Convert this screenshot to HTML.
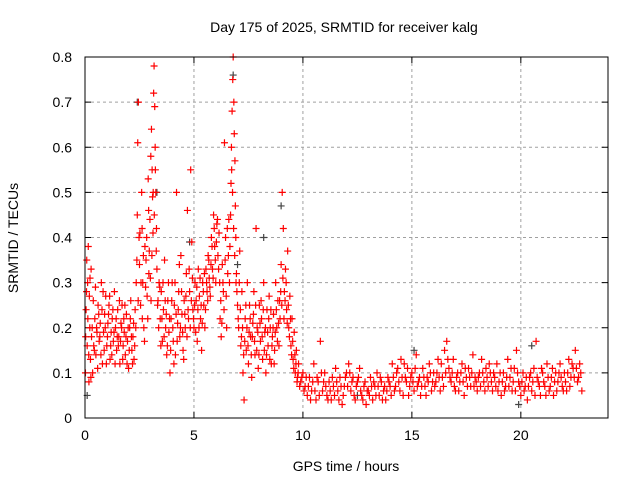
<!DOCTYPE html>
<html><head><meta charset="utf-8"><style>
body{margin:0;background:#fff}
svg text{font-family:"Liberation Sans",sans-serif;font-size:14px;fill:#000}
</style></head><body>
<svg id="c" width="640" height="480" xmlns="http://www.w3.org/2000/svg">
<rect width="640" height="480" fill="#fff"/>
<text x="344" y="32" text-anchor="middle">Day 175 of 2025, SRMTID for receiver kalg</text>
<text x="346" y="471" text-anchor="middle">GPS time / hours</text>
<text transform="translate(18,238) rotate(-90)" text-anchor="middle">SRMTID / TECUs</text>
<g id="grid"></g><g id="ticks"></g><g id="marks"></g>
<rect x="85" y="57" width="523" height="361" fill="none" stroke="#000"/>
</svg>
<script>
const xTicks=[0,5,10,15,20];
const yTicks=[0,0.1,0.2,0.3,0.4,0.5,0.6,0.7,0.8];
const xMax=24, yMax=0.8;
// red series: [hour, TECU]
const red=[
[0.02,0.1],[0.05,0.24],[0.08,0.35],[0.1,0.16],[0.12,0.3],[0.15,0.38],[0.18,0.08],[0.2,0.27],[0.22,0.2],[0.25,0.13],[0.28,0.33],[0.3,0.18],[0.35,0.1],[0.4,0.16],[0.45,0.22],[0.5,0.14],[0.55,0.19],[0.6,0.25],[0.65,0.17],[0.7,0.21],[0.75,0.3],[0.8,0.12],[0.85,0.19],[0.9,0.23],[0.95,0.27],[1.0,0.16],[1.05,0.21],[1.1,0.25],[1.15,0.13],[1.2,0.19],[1.25,0.22],[1.3,0.17],[1.35,0.28],[1.4,0.2],[1.45,0.15],[1.5,0.24],[1.55,0.18],[1.6,0.12],[1.65,0.21],[1.7,0.25],[1.75,0.16],[1.8,0.19],[1.85,0.14],[1.9,0.23],[1.95,0.17],[2.0,0.11],[2.05,0.2],[2.1,0.26],[2.15,0.15],[2.2,0.18],[2.25,0.13],[2.3,0.24],[2.35,0.3],[2.4,0.45],[2.42,0.61],[2.45,0.7],[2.48,0.4],[2.5,0.34],[2.55,0.25],[2.6,0.5],[2.62,0.42],[2.65,0.3],[2.7,0.2],[2.75,0.38],[2.8,0.35],[2.85,0.27],[2.9,0.53],[2.92,0.46],[2.95,0.37],[3.0,0.31],[3.02,0.58],[3.05,0.64],[3.08,0.55],[3.1,0.49],[3.12,0.41],[3.15,0.72],[3.17,0.78],[3.2,0.69],[3.22,0.6],[3.25,0.5],[3.28,0.42],[3.3,0.33],[3.35,0.26],[3.4,0.3],[3.45,0.22],[3.5,0.28],[3.55,0.17],[3.6,0.24],[3.65,0.35],[3.7,0.2],[3.75,0.14],[3.8,0.26],[3.85,0.19],[3.9,0.1],[3.95,0.22],[4.0,0.3],[4.05,0.17],[4.1,0.25],[4.15,0.14],[4.2,0.5],[4.25,0.21],[4.3,0.28],[4.35,0.18],[4.4,0.36],[4.45,0.23],[4.5,0.15],[4.55,0.26],[4.6,0.2],[4.65,0.32],[4.7,0.46],[4.75,0.22],[4.8,0.28],[4.85,0.55],[4.9,0.39],[4.95,0.24],[5.0,0.2],[5.05,0.3],[5.1,0.26],[5.15,0.17],[5.2,0.33],[5.25,0.27],[5.3,0.22],[5.35,0.15],[5.4,0.3],[5.45,0.25],[5.5,0.2],[5.55,0.33],[5.6,0.28],[5.65,0.36],[5.7,0.31],[5.75,0.27],[5.8,0.4],[5.85,0.33],[5.9,0.45],[5.95,0.38],[6.0,0.3],[6.05,0.43],[6.1,0.36],[6.15,0.41],[6.2,0.22],[6.25,0.18],[6.3,0.34],[6.35,0.28],[6.4,0.61],[6.45,0.4],[6.5,0.2],[6.55,0.32],[6.6,0.44],[6.65,0.38],[6.7,0.52],[6.72,0.6],[6.75,0.68],[6.78,0.75],[6.8,0.8],[6.83,0.7],[6.85,0.63],[6.88,0.57],[6.9,0.47],[6.92,0.4],[6.95,0.32],[7.0,0.25],[7.05,0.2],[7.1,0.37],[7.15,0.16],[7.2,0.28],[7.25,0.1],[7.3,0.04],[7.35,0.22],[7.4,0.15],[7.45,0.3],[7.5,0.12],[7.55,0.25],[7.6,0.18],[7.65,0.09],[7.7,0.21],[7.75,0.28],[7.8,0.14],[7.85,0.42],[7.9,0.2],[7.95,0.11],[8.0,0.25],[8.05,0.17],[8.1,0.22],[8.15,0.13],[8.2,0.3],[8.25,0.19],[8.3,0.1],[8.35,0.24],[8.4,0.16],[8.45,0.27],[8.5,0.2],[8.55,0.12],[8.6,0.18],[8.65,0.23],[8.7,0.15],[8.75,0.3],[8.8,0.2],[8.85,0.26],[8.9,0.16],[8.95,0.22],[9.0,0.34],[9.05,0.5],[9.1,0.42],[9.15,0.28],[9.2,0.33],[9.25,0.24],[9.3,0.37],[9.35,0.2],[9.4,0.27],[9.45,0.16],[9.5,0.22],[9.55,0.13],[9.6,0.19],[9.65,0.1],[9.7,0.15],[9.75,0.09],[9.8,0.12],[9.9,0.08],[10.0,0.1],[10.1,0.07],[10.2,0.05],[10.3,0.09],[10.4,0.06],[10.5,0.12],[10.6,0.04],[10.7,0.08],[10.8,0.17],[10.9,0.06],[11.0,0.1],[11.1,0.05],[11.2,0.08],[11.3,0.04],[11.4,0.07],[11.5,0.11],[11.6,0.06],[11.7,0.09],[11.8,0.03],[11.9,0.07],[12.0,0.1],[12.1,0.12],[12.2,0.06],[12.3,0.09],[12.4,0.04],[12.5,0.08],[12.6,0.11],[12.7,0.05],[12.8,0.07],[12.9,0.03],[13.0,0.06],[13.1,0.09],[13.2,0.04],[13.3,0.07],[13.4,0.1],[13.5,0.05],[13.6,0.08],[13.7,0.06],[13.8,0.04],[13.9,0.09],[14.0,0.07],[14.1,0.12],[14.2,0.06],[14.3,0.1],[14.4,0.08],[14.5,0.13],[14.6,0.05],[14.7,0.09],[14.8,0.11],[14.9,0.07],[15.0,0.1],[15.1,0.06],[15.2,0.14],[15.3,0.08],[15.4,0.05],[15.5,0.11],[15.6,0.07],[15.7,0.09],[15.8,0.12],[15.9,0.06],[16.0,0.1],[16.1,0.08],[16.2,0.13],[16.3,0.06],[16.4,0.09],[16.5,0.15],[16.6,0.17],[16.7,0.11],[16.8,0.08],[16.9,0.13],[17.0,0.06],[17.1,0.1],[17.2,0.08],[17.3,0.12],[17.4,0.05],[17.5,0.09],[17.6,0.11],[17.7,0.07],[17.8,0.14],[17.9,0.09],[18.0,0.06],[18.1,0.1],[18.2,0.13],[18.3,0.08],[18.4,0.11],[18.5,0.07],[18.6,0.1],[18.7,0.06],[18.8,0.09],[18.9,0.12],[19.0,0.08],[19.1,0.05],[19.2,0.1],[19.3,0.07],[19.4,0.13],[19.5,0.09],[19.6,0.06],[19.7,0.11],[19.8,0.15],[19.9,0.08],[20.0,0.05],[20.1,0.1],[20.2,0.07],[20.3,0.04],[20.4,0.09],[20.5,0.06],[20.6,0.11],[20.7,0.17],[20.8,0.08],[20.9,0.05],[21.0,0.1],[21.1,0.07],[21.2,0.12],[21.3,0.06],[21.4,0.09],[21.5,0.05],[21.6,0.1],[21.7,0.08],[21.8,0.12],[21.9,0.07],[22.0,0.1],[22.1,0.06],[22.2,0.13],[22.3,0.09],[22.4,0.11],[22.5,0.15],[22.6,0.08],[22.7,0.12],[22.8,0.06]
];
// additional red samples (second satellite group)
const red2=[
[0.03,0.18],[0.07,0.28],[0.13,0.22],[0.17,0.14],[0.23,0.31],[0.27,0.09],[0.33,0.2],[0.38,0.26],[0.43,0.15],[0.48,0.29],[0.53,0.2],[0.58,0.11],[0.63,0.23],[0.68,0.18],[0.73,0.14],[0.78,0.24],[0.83,0.28],[0.88,0.15],[0.93,0.2],[0.98,0.12],[1.03,0.18],[1.08,0.23],[1.13,0.27],[1.18,0.16],[1.23,0.14],[1.28,0.24],[1.33,0.19],[1.38,0.12],[1.43,0.22],[1.48,0.18],[1.53,0.16],[1.58,0.26],[1.63,0.17],[1.68,0.2],[1.73,0.13],[1.78,0.22],[1.83,0.25],[1.88,0.18],[1.93,0.12],[1.98,0.2],[2.03,0.15],[2.08,0.22],[2.13,0.18],[2.18,0.12],[2.23,0.21],[2.28,0.16],[2.33,0.2],[2.38,0.35],[2.44,0.26],[2.52,0.41],[2.57,0.3],[2.63,0.22],[2.68,0.36],[2.73,0.17],[2.78,0.29],[2.83,0.4],[2.88,0.22],[2.93,0.32],[2.98,0.44],[3.03,0.26],[3.07,0.36],[3.13,0.5],[3.18,0.45],[3.23,0.55],[3.27,0.37],[3.33,0.25],[3.38,0.2],[3.43,0.29],[3.48,0.16],[3.53,0.22],[3.58,0.3],[3.63,0.18],[3.68,0.26],[3.73,0.23],[3.78,0.16],[3.83,0.3],[3.88,0.22],[3.93,0.15],[3.98,0.26],[4.03,0.2],[4.08,0.12],[4.13,0.3],[4.18,0.23],[4.23,0.17],[4.28,0.24],[4.33,0.34],[4.38,0.2],[4.43,0.28],[4.48,0.19],[4.53,0.13],[4.58,0.23],[4.63,0.27],[4.68,0.18],[4.73,0.24],[4.78,0.33],[4.83,0.2],[4.88,0.26],[4.93,0.31],[4.98,0.22],[5.03,0.25],[5.08,0.19],[5.13,0.29],[5.18,0.24],[5.23,0.2],[5.28,0.31],[5.33,0.25],[5.38,0.21],[5.43,0.28],[5.48,0.32],[5.53,0.24],[5.58,0.3],[5.63,0.26],[5.68,0.35],[5.73,0.29],[5.78,0.34],[5.83,0.38],[5.88,0.31],[5.93,0.42],[5.98,0.35],[6.03,0.39],[6.08,0.44],[6.13,0.33],[6.18,0.3],[6.23,0.26],[6.28,0.21],[6.33,0.3],[6.38,0.24],[6.43,0.35],[6.48,0.27],[6.53,0.42],[6.58,0.36],[6.63,0.3],[6.68,0.45],[6.73,0.55],[6.77,0.5],[6.82,0.42],[6.87,0.36],[6.93,0.3],[6.97,0.28],[7.03,0.22],[7.08,0.3],[7.13,0.24],[7.18,0.18],[7.23,0.2],[7.28,0.14],[7.33,0.17],[7.38,0.25],[7.43,0.2],[7.48,0.16],[7.53,0.19],[7.58,0.22],[7.63,0.14],[7.68,0.18],[7.73,0.23],[7.78,0.17],[7.83,0.25],[7.88,0.15],[7.93,0.19],[7.98,0.14],[8.03,0.21],[8.08,0.26],[8.13,0.18],[8.18,0.24],[8.23,0.15],[8.28,0.2],[8.33,0.14],[8.38,0.19],[8.43,0.22],[8.48,0.13],[8.53,0.24],[8.58,0.16],[8.63,0.2],[8.68,0.12],[8.73,0.19],[8.78,0.24],[8.83,0.17],[8.88,0.21],[8.93,0.26],[8.98,0.28],[9.03,0.25],[9.08,0.31],[9.13,0.22],[9.18,0.26],[9.23,0.3],[9.28,0.21],[9.33,0.25],[9.38,0.18],[9.43,0.22],[9.48,0.14],[9.53,0.17],[9.58,0.11],[9.63,0.14],[9.68,0.12],[9.73,0.08],[9.78,0.1],[9.85,0.07],[9.95,0.09],[10.05,0.06],[10.15,0.09],[10.25,0.07],[10.35,0.04],[10.45,0.08],[10.55,0.06],[10.65,0.09],[10.75,0.05],[10.85,0.1],[10.95,0.08],[11.05,0.07],[11.15,0.04],[11.25,0.06],[11.35,0.09],[11.45,0.05],[11.55,0.08],[11.65,0.04],[11.75,0.07],[11.85,0.05],[11.95,0.09],[12.05,0.07],[12.15,0.1],[12.25,0.08],[12.35,0.05],[12.45,0.07],[12.55,0.09],[12.65,0.06],[12.75,0.04],[12.85,0.08],[12.95,0.06],[13.05,0.05],[13.15,0.07],[13.25,0.08],[13.35,0.05],[13.45,0.07],[13.55,0.09],[13.65,0.04],[13.75,0.07],[13.85,0.06],[13.95,0.08],[14.05,0.05],[14.15,0.09],[14.25,0.07],[14.35,0.11],[14.45,0.06],[14.55,0.09],[14.65,0.12],[14.75,0.08],[14.85,0.05],[14.95,0.09],[15.05,0.08],[15.15,0.11],[15.25,0.07],[15.35,0.09],[15.45,0.07],[15.55,0.09],[15.65,0.05],[15.75,0.08],[15.85,0.1],[15.95,0.08],[16.05,0.07],[16.15,0.1],[16.25,0.09],[16.35,0.12],[16.45,0.07],[16.55,0.1],[16.65,0.13],[16.75,0.09],[16.85,0.1],[16.95,0.07],[17.05,0.09],[17.15,0.06],[17.25,0.1],[17.35,0.08],[17.45,0.11],[17.55,0.07],[17.65,0.09],[17.75,0.1],[17.85,0.07],[17.95,0.08],[18.05,0.09],[18.15,0.07],[18.25,0.1],[18.35,0.06],[18.45,0.09],[18.55,0.12],[18.65,0.08],[18.75,0.1],[18.85,0.07],[18.95,0.06],[19.05,0.1],[19.15,0.08],[19.25,0.06],[19.35,0.09],[19.45,0.07],[19.55,0.11],[19.65,0.08],[19.75,0.06],[19.85,0.1],[19.95,0.07],[20.05,0.08],[20.15,0.06],[20.25,0.09],[20.35,0.07],[20.45,0.1],[20.55,0.08],[20.65,0.05],[20.75,0.09],[20.85,0.07],[20.95,0.11],[21.05,0.08],[21.15,0.05],[21.25,0.09],[21.35,0.07],[21.45,0.11],[21.55,0.08],[21.65,0.06],[21.75,0.1],[21.85,0.09],[21.95,0.06],[22.05,0.08],[22.15,0.1],[22.25,0.07],[22.35,0.12],[22.45,0.09],[22.55,0.11],[22.65,0.09],[22.75,0.1]
];
const grey=[[0.1,0.05],[2.4,0.7],[3.3,0.5],[4.8,0.39],[6.8,0.76],[7.0,0.34],[8.2,0.4],[9.0,0.47],[12.5,0.05],[15.1,0.15],[19.9,0.03],[20.5,0.16]];
const X=v=>85+v/xMax*523, Y=v=>418-v/yMax*361;
const NS="http://www.w3.org/2000/svg";
function mk(t,a,p){const e=document.createElementNS(NS,t);for(const k in a)e.setAttribute(k,a[k]);p.appendChild(e);return e;}
const grid=document.getElementById('grid'),ticks=document.getElementById('ticks'),marks=document.getElementById('marks');
xTicks.forEach(v=>{const x=X(v);
 if(v>0){const l=mk('line',{x1:x,y1:57,x2:x,y2:418,stroke:'#a0a0a0','stroke-dasharray':'3,3'},grid);
 
 }
 mk('line',{x1:x,y1:418,x2:x,y2:412,stroke:'#000'},ticks);mk('line',{x1:x,y1:57,x2:x,y2:63,stroke:'#000'},ticks);
 const t=mk('text',{x:x,y:440,'text-anchor':'middle'},ticks);t.textContent=v;
 
 });
yTicks.forEach(v=>{const y=Y(v);
 if(v>0&&v<0.8){const l=mk('line',{x1:85,y1:y,x2:608,y2:y,stroke:'#a0a0a0','stroke-dasharray':'3,3'},grid);
 
 }
 mk('line',{x1:85,y1:y,x2:91,y2:y,stroke:'#000'},ticks);mk('line',{x1:608,y1:y,x2:602,y2:y,stroke:'#000'},ticks);
 const t=mk('text',{x:72,y:y+5,'text-anchor':'end'},ticks);t.textContent=v===0?'0':v.toFixed(1);
 
 });
function plus(d,col,name){const x=X(d[0]),y=Y(d[1]);
 const p=mk('path',{d:`M${x-3.5} ${y}h7M${x} ${y-3.5}v7`,stroke:col,'stroke-width':1.2,fill:'none'},marks);
 
 }
grey.forEach(d=>plus(d,'#444','grey-point'));
red.forEach(d=>plus(d,'#ff0000','srmtid-point'));
red2.forEach(d=>plus(d,'#ff0000','srmtid-point'));
</script>
</body></html>
